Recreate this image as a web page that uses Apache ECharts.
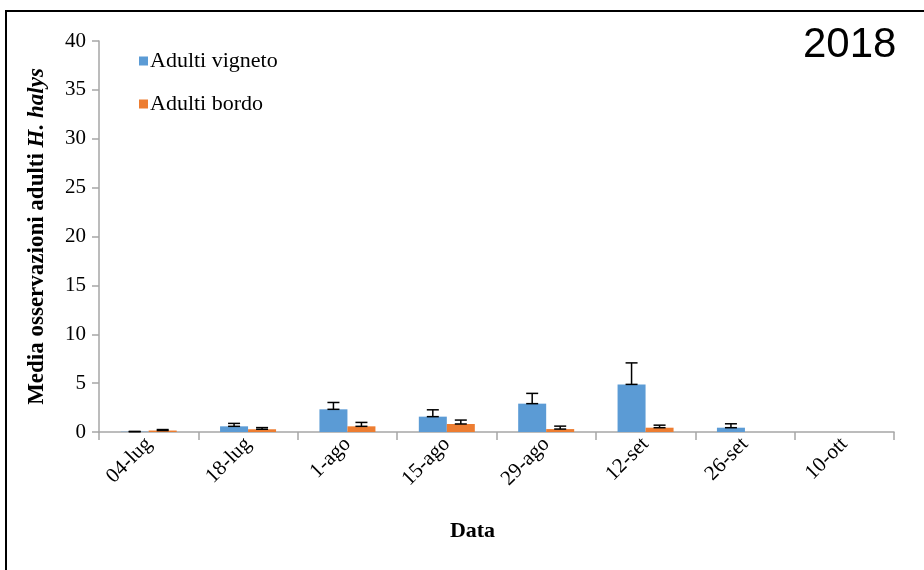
<!DOCTYPE html>
<html>
<head>
<meta charset="utf-8">
<script src="https://cdn.jsdelivr.net/npm/echarts@6/dist/echarts.min.js"></script>
<style>
  html, body { margin: 0; padding: 0; background: #fff; }
  #chart { width: 924px; height: 570px; }
</style>
</head>
<body>
<div id="chart"></div>
<script>
// dati
const dates = ['04-lug', '18-lug', '1-ago', '15-ago', '29-ago', '12-set', '26-set', '10-ott'];
const vigneto = [0.03, 0.58, 2.32, 1.57, 2.9, 4.87, 0.44, 0];
const vignetoErr = [0.03, 0.3, 0.7, 0.7, 1.05, 2.2, 0.4, 0];
const bordo = [0.15, 0.28, 0.58, 0.82, 0.3, 0.44, 0, 0];
const bordoErr = [0.1, 0.17, 0.4, 0.4, 0.3, 0.26, 0, 0];
const yTicks = [0, 5, 10, 15, 20, 25, 30, 35, 40];

const BAR_W = 28;
const serif = '"Liberation Serif", "Times New Roman", serif';

const chart = echarts.init(document.getElementById('chart'));

// barre d'errore (solo positive, stile Excel)
function errorSeries(values, errs, offset) {
  return {
    type: 'custom',
    silent: true,
    z: 5,
    data: values.map((v, i) => [i, v, v + errs[i]]),
    renderItem(params, api) {
      const base = api.coord([api.value(0), api.value(1)]);
      const top = api.coord([api.value(0), api.value(2)]);
      const x = base[0] + offset;
      if (api.value(2) - api.value(1) <= 0) return null;
      const half = 6;
      const st = { stroke: '#000', lineWidth: 1.5 };
      return {
        type: 'group',
        children: [
          { type: 'line', shape: { x1: x, y1: base[1], x2: x, y2: top[1] }, style: st },
          { type: 'line', shape: { x1: x - half, y1: top[1], x2: x + half, y2: top[1] }, style: st },
          { type: 'line', shape: { x1: x - half, y1: base[1], x2: x + half, y2: base[1] }, style: st }
        ]
      };
    }
  };
}

const option = {
  animation: false,
  grid: { left: 99, right: 30, top: 41, bottom: 138 },
  legend: {
    orient: 'vertical',
    left: 134,
    top: 45,
    itemWidth: 9,
    itemHeight: 9,
    itemGap: 21,
    icon: 'rect',
    data: ['Adulti vigneto', 'Adulti bordo'],
    textStyle: { fontFamily: serif, fontSize: 22, color: '#000', padding: [0, 0, 0, -3] }
  },
  graphic: [
    {
      type: 'rect',
      shape: { x: 6, y: 11, width: 1200, height: 1000 },
      style: { fill: 'none', stroke: '#000', lineWidth: 2 },
      silent: true
    },
    {
      type: 'text',
      left: 803,
      top: 24,
      style: { text: '2018', font: '42px "Liberation Sans", Arial, sans-serif', fill: '#000' }
    }
  ],
  xAxis: {
    type: 'category',
    data: dates,
    name: 'Data',
    nameLocation: 'middle',
    nameGap: 88,
    nameTextStyle: { fontFamily: serif, fontSize: 22, fontWeight: 'bold', color: '#000', padding: [0, 48, 0, 0] },
    axisLine: { lineStyle: { color: '#a6a6a6', width: 1.5 } },
    axisTick: { show: true, length: 8, lineStyle: { color: '#a6a6a6', width: 1.5 } },
    axisLabel: { rotate: 45, fontFamily: serif, fontSize: 21, color: '#000', margin: 9, interval: 0 }
  },
  yAxis: {
    type: 'value',
    min: 0,
    max: 40,
    interval: 5,
    name: '{b|Media osservazioni adulti }{bi|H. halys}',
    nameLocation: 'middle',
    nameGap: 50,
    nameTextStyle: {
      rich: {
        b: { fontFamily: serif, fontSize: 23, fontWeight: 'bold', color: '#000' },
        bi: { fontFamily: serif, fontSize: 23, fontWeight: 'bold', fontStyle: 'italic', color: '#000' }
      }
    },
    axisLine: { show: true, lineStyle: { color: '#a6a6a6', width: 1.5 } },
    axisTick: { show: true, inside: false, length: 7, lineStyle: { color: '#a6a6a6', width: 1.5 } },
    splitLine: { show: false },
    axisLabel: {
      fontFamily: serif, fontSize: 21, color: '#000', margin: 13,
      formatter: v => (yTicks.includes(v) ? String(v) : '')
    }
  },
  series: [
    {
      name: 'Adulti vigneto',
      type: 'bar',
      data: vigneto,
      barWidth: BAR_W,
      barGap: '0%',
      itemStyle: { color: '#5b9bd5' }
    },
    {
      name: 'Adulti bordo',
      type: 'bar',
      data: bordo,
      barWidth: BAR_W,
      barGap: '0%',
      itemStyle: { color: '#ed7d31' }
    },
    errorSeries(vigneto, vignetoErr, -BAR_W / 2),
    errorSeries(bordo, bordoErr, BAR_W / 2)
  ]
};

chart.setOption(option);
</script>
</body>
</html>
